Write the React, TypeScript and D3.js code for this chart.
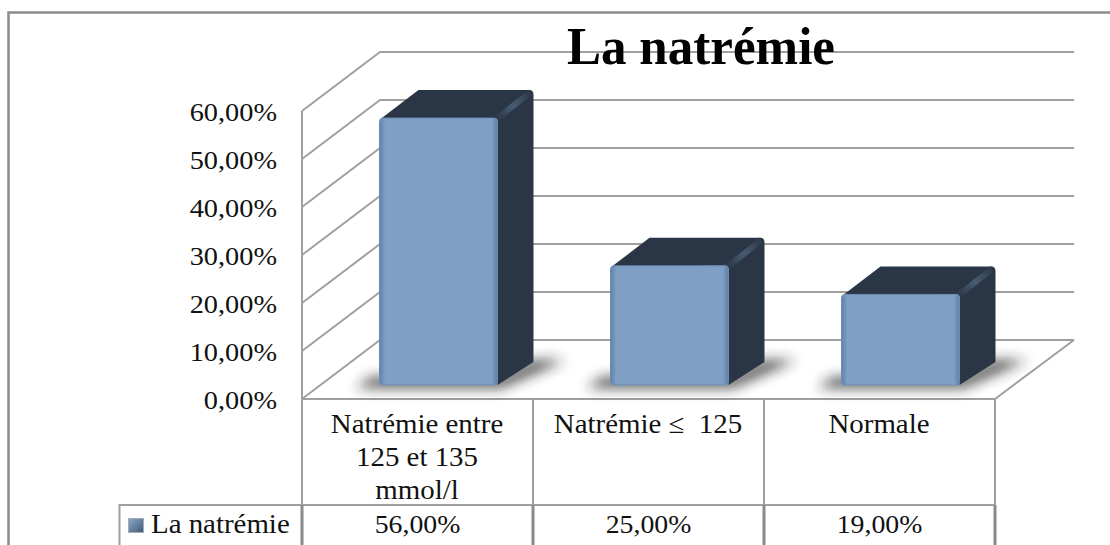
import React from "react";
import * as d3 from "d3";

const categories = ["Natrémie entre 125 et 135 mmol/l", "Natrémie ≤  125", "Normale"];
const categoryLines = [["Natrémie entre", "125 et 135", "mmol/l"], ["Natrémie ≤  125"], ["Normale"]];
const values = [56, 25, 19];
const valueLabels = ["56,00%", "25,00%", "19,00%"];
const tickValues = [0, 10, 20, 30, 40, 50, 60];
const tickLabels = ["0,00%", "10,00%", "20,00%", "30,00%", "40,00%", "50,00%", "60,00%"];
const seriesName = "La natrémie";
const title = "La natrémie";

const FONT = "'Liberation Serif', serif";
const GRID = "#a0a0a0";
const DARK = "#8a8a8a";
const W = 1110, H = 545;
const DX = 78, DY = -59;
const x = d3.scaleBand<string>().domain(categories).range([302, 995]).paddingInner(0);
const yWall = d3.scaleLinear().domain([0, 60]).range([399, 111]);
const yBar = d3.scaleLinear().domain([0, 60]).range([385, 99]);
const barW = 118, depX = 36, depY = -28;
const barOffset = 77.5;
const TABLE_TOP = 505;

function Label({ x: px, y, anchor, size, sx, children }: any) {
  return (
    <text transform={`translate(${px} ${y}) scale(${sx} 1)`} textAnchor={anchor} fontFamily={FONT} fontSize={size} fill="#111" xmlSpace="preserve">{children}</text>
  );
}

export default function App() {
  return (
    <svg width={W} height={H} viewBox={`0 0 ${W} ${H}`} style={{ position: "fixed", left: 0, top: 0, background: "#fff" }}>
      <defs>
        <filter id="sh" x="-30%" y="-100%" width="160%" height="300%"><feGaussianBlur stdDeviation="6.5" /></filter>
        <filter id="soft" x="-5%" y="-5%" width="110%" height="110%"><feGaussianBlur stdDeviation="0.5" /></filter>
        <linearGradient id="face" x1="0" x2="1" y1="0" y2="0">
          <stop offset="0" stopColor="#5f83ab" />
          <stop offset="0.05" stopColor="#7f9fc4" />
          <stop offset="0.95" stopColor="#7f9fc4" />
          <stop offset="1" stopColor="#5f7fa5" />
        </linearGradient>
        <linearGradient id="edge" x1="0" x2="1" y1="1" y2="0">
          <stop offset="0" stopColor="#2c3846" />
          <stop offset="0.5" stopColor="#465c74" />
          <stop offset="1" stopColor="#2c3846" />
        </linearGradient>
        <linearGradient id="leg" x1="0" x2="1" y1="0" y2="1">
          <stop offset="0" stopColor="#8eabcd" />
          <stop offset="1" stopColor="#3f5873" />
        </linearGradient>
      </defs>

      <path d={`M8.5 ${H}V12.5H${W}`} fill="none" stroke={DARK} strokeWidth={2.5} />

      {tickValues.map((t) => (
        <path key={t} d={`M302 ${yWall(t)}L${302 + DX} ${yWall(t) + DY}H1074`} fill="none" stroke={GRID} strokeWidth={2} />
      ))}
      <path d={`M302 ${yWall(60)}V${yWall(0)}H995L1074 ${yWall(0) + DY}`} fill="none" stroke={GRID} strokeWidth={2} />

      {categories.map((c, i) => {
        const left = x(c)! + barOffset;
        const top = yBar(values[i]);
        const base = yBar(0);
        return (
          <g key={c}>
            <path d={`M${left - 24} ${base + 3}H${left + barW + 4}L${left + barW + depX + 32} ${base + depY + 3}H${left + barW + depX}L${left + barW} ${base - 8}H${left - 8}Z`} fill="#222" opacity={0.78} filter="url(#sh)" />
            <path d={`M${left + 1} ${top + 1}L${left + depX + 3} ${top + depY}H${left + barW + depX - 4}Q${left + barW + depX} ${top + depY} ${left + barW + depX} ${top + depY + 5}V${base + depY + 5}L${left + barW} ${base}V${top}Z`} fill="#2b3644" filter="url(#soft)" />
            <path d={`M${left + barW - 1} ${top + 1}L${left + barW + depX - 3} ${top + depY + 2}`} stroke="url(#edge)" strokeWidth={6} fill="none" />
            <rect x={left} y={top} width={barW} height={base - top} rx={3.5} fill="url(#face)" stroke="#6c8db3" strokeWidth={1} />
          </g>
        );
      })}

      <path d={`M302 ${yWall(0)}V${TABLE_TOP}M533 ${yWall(0)}V${TABLE_TOP}M764 ${yWall(0)}V${TABLE_TOP}M995 ${yWall(0)}V${TABLE_TOP}`} fill="none" stroke={GRID} strokeWidth={2} />
      <path d={`M119.5 ${H}V${TABLE_TOP}H995`} fill="none" stroke={GRID} strokeWidth={2} />
      <path d={`M302 ${TABLE_TOP}V${H}M533 ${TABLE_TOP}V${H}M764 ${TABLE_TOP}V${H}M995 ${TABLE_TOP}V${H}`} fill="none" stroke={DARK} strokeWidth={3} />

      <text x={701} y={64} textAnchor="middle" fontFamily={FONT} fontWeight={700} fontSize={52} fill="#000" textLength={268} lengthAdjust="spacingAndGlyphs">{title}</text>

      {tickValues.map((t, i) => (
        <Label key={t} x={277} y={yWall(t) + 10} anchor="end" size={26} sx={1.09}>{tickLabels[i]}</Label>
      ))}

      {categories.map((c, i) => (
        <g key={c}>
          {categoryLines[i].map((l, j) => (
            <Label key={j} x={x(c)! + x.bandwidth() / 2 - 0.5} y={433 + j * 33} anchor="middle" size={27} sx={1.07}>{l}</Label>
          ))}
          <Label x={x(c)! + x.bandwidth() / 2} y={533} anchor="middle" size={26} sx={1.07}>{valueLabels[i]}</Label>
        </g>
      ))}

      <rect x={128.5} y={518.5} width={15} height={14} fill="url(#leg)" stroke="#a3adb8" strokeWidth={1} />
      <Label x={151} y={533} anchor="start" size={27} sx={1.07}>{seriesName}</Label>
    </svg>
  );
}
